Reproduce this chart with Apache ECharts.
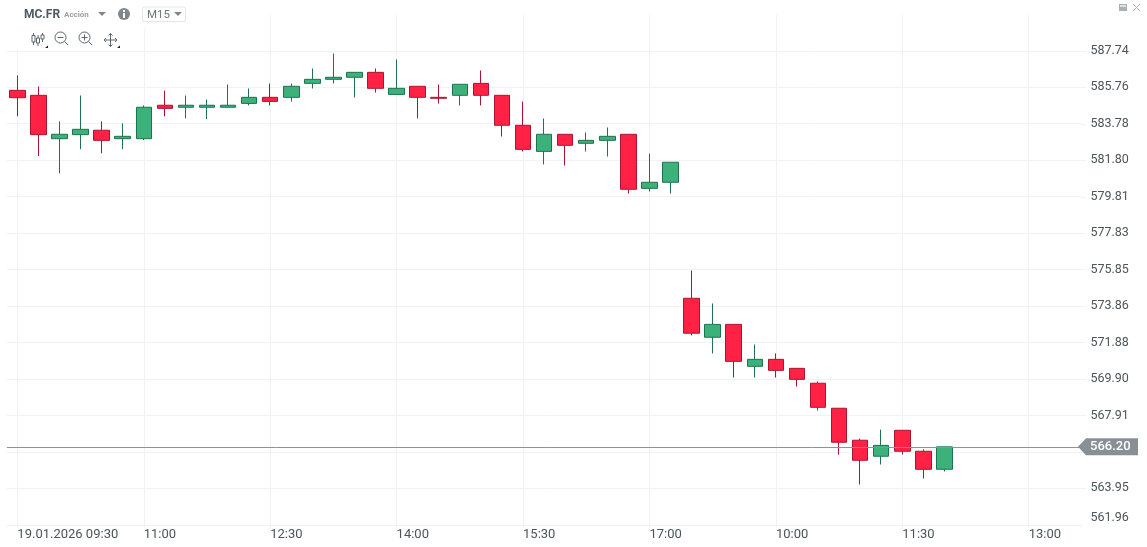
<!DOCTYPE html>
<html lang="es">
<head>
<meta charset="UTF-8">
<title>MC.FR M15</title>
<script src="https://cdn.jsdelivr.net/npm/echarts@6/dist/echarts.min.js"></script>
<style>
  html, body { margin: 0; padding: 0; background: #fff; }
  #main { width: 1147px; height: 547px; }
</style>
</head>
<body>
<div id="main"></div>
<script>
// 15 minute candles
var categories = [
  '19.01.2026 09:30','09:45','10:00','10:15','10:30','10:45',
  '11:00','11:15','11:30','11:45','12:00','12:15',
  '12:30','12:45','13:00','13:15','13:30','13:45',
  '14:00','14:15','14:30','14:45','15:00','15:15',
  '15:30','15:45','16:00','16:15','16:30','16:45',
  '17:00','17:15','09:00','09:15','09:30','09:45',
  '10:00','10:15','10:30','10:45','11:00','11:15',
  '11:30','11:45','12:00','12:15','12:30','12:45',
  '13:00','13:15','13:30'
];
var opens = [585.59,585.32,582.96,583.18,583.42,582.96,582.96,584.78,584.67,584.67,584.67,584.88,585.21,585.21,585.97,586.19,586.30,586.57,585.37,585.81,585.21,585.32,585.97,585.32,583.69,582.27,583.20,582.71,582.87,583.20,580.26,580.59,574.28,572.16,572.86,570.58,570.96,570.47,569.66,568.30,566.56,565.69,567.10,565.96,564.98];
var closes = [585.19,583.18,583.20,583.47,582.87,583.09,584.67,584.61,584.78,584.78,584.78,585.21,584.99,585.81,586.19,586.30,586.57,585.70,585.70,585.21,585.16,585.92,585.32,583.69,582.38,583.20,582.60,582.87,583.09,580.21,580.59,581.68,572.38,572.86,570.85,570.96,570.36,569.87,568.35,566.45,565.47,566.28,565.96,564.98,566.20];
var lows = [584.18,582.01,581.08,582.39,582.17,582.39,582.88,584.18,584.07,584.02,584.67,584.77,584.77,584.98,585.69,585.96,585.20,585.47,585.37,584.06,584.87,584.77,584.77,583.08,582.26,581.56,581.50,582.26,581.99,579.98,580.09,579.98,572.26,571.28,569.97,569.97,569.97,569.48,568.18,565.78,564.15,565.24,565.78,564.48,564.86];
var highs = [586.40,585.80,583.90,585.31,583.90,583.79,584.77,585.58,585.31,585.09,585.91,585.69,585.96,585.96,586.78,587.59,586.57,586.78,587.27,585.81,585.91,585.92,586.67,585.32,584.98,584.06,583.20,583.30,583.57,583.20,582.15,581.68,575.79,574.00,572.86,571.77,571.28,570.47,569.75,568.30,566.65,567.14,567.10,566.06,566.20];
var yTicks = [561.96,563.95,565.93,567.91,569.90,571.88,573.86,575.85,577.83,579.81,581.80,583.78,585.76,587.74];
var yLabels = [561.96,563.95,567.91,569.90,571.88,573.86,575.85,577.83,579.81,581.80,583.78,585.76,587.74];
var lastPrice = 566.20;

var candles = categories.map(function (c, i) {
    if (i >= opens.length) return '-';
    return [opens[i], closes[i], lows[i], highs[i]];
});

var myChart = echarts.init(document.getElementById('main'), null, { renderer: 'canvas' });
var font = 'Roboto';
var gridColor = '#f1f2f3';
var textColor = '#4b555b';
var iconColor = '#5c686e';

var option = {
    animation: false,
    backgroundColor: '#fff',
    textStyle: { fontFamily: font },
    grid: { left: 6.8, right: 65.6, top: 14.6, bottom: 22.2 },
    xAxis: {
        type: 'category',
        data: categories,
        boundaryGap: true,
        axisLine: { show: true, lineStyle: { color: gridColor } },
        axisTick: { show: true, alignWithLabel: true, interval: 5, length: 3, lineStyle: { color: gridColor } },
        splitLine: { show: true, alignWithLabel: true, interval: 5, lineStyle: { color: gridColor, width: 1 } },
        axisLabel: { interval: 5, align: 'left', margin: 3, fontFamily: font, fontSize: 13, color: textColor, hideOverlap: false }
    },
    yAxis: {
        type: 'value',
        position: 'right',
        min: 561.96,
        max: 589.71,
        scale: true,
        axisLine: { show: false },
        axisTick: { show: false, customValues: yTicks },
        splitLine: { show: true, lineStyle: { color: gridColor, width: 1 } },
        axisLabel: {
            customValues: yLabels,
            margin: 9,
            padding: [1, 0, 0, 0],
            fontFamily: font,
            fontSize: 12.5,
            color: textColor,
            verticalAlignMinLabel: 'bottom',
            formatter: function (v) { return v.toFixed(2); }
        }
    },
    series: [{
        type: 'candlestick',
        data: candles,
        barWidth: 16,
        itemStyle: {
            color: '#3cb27a',
            color0: '#ff2244',
            borderColor: '#1d7350',
            borderColor0: '#ad1431',
            borderWidth: 1
        },
        markLine: {
            silent: true,
            symbol: 'none',
            label: { show: false },
            lineStyle: { color: '#8b9498', type: 'solid', width: 1 },
            data: [{ yAxis: lastPrice }]
        }
    }]
};
myChart.setOption(option);

// header, toolbar and price tag sit on top of the plot
var tagY = myChart.convertToPixel({ yAxisIndex: 0 }, lastPrice);
function line(x1, y1, x2, y2, color) {
    return { type: 'line', shape: { x1: x1, y1: y1, x2: x2, y2: y2 }, style: { stroke: color || iconColor, lineWidth: 1 }, silent: true };
}
function tri(points, color) {
    return { type: 'polygon', shape: { points: points }, style: { fill: color }, silent: true };
}
function lens(cx, cy) {
    return { type: 'circle', shape: { cx: cx, cy: cy, r: 5.5 }, style: { fill: 'none', stroke: iconColor, lineWidth: 1 }, silent: true };
}
function candleIcon(x, top, bot, y1, y2) {
    return [
        line(x, y1, x, y2),
        { type: 'rect', shape: { x: x - 1.5, y: top, width: 3, height: bot - top }, style: { fill: '#fff', stroke: iconColor, lineWidth: 1 }, silent: true }
    ];
}
// horizontal grid lines run a little past the last category
var gridEnds = yTicks.slice(1).map(function (v) {
    var y = Math.round(myChart.convertToPixel({ yAxisIndex: 0 }, v)) + 0.5;
    return line(1081, y, 1086, y, gridColor);
});
myChart.setOption({
    graphic: { elements: [].concat(
        gridEnds,
        [
            { type: 'rect', shape: { x: 17, y: 0, width: 172, height: 27.5 }, style: { fill: '#fff' }, z: 50, silent: true },
            { type: 'rect', shape: { x: 17, y: 27, width: 110, height: 22.5 }, style: { fill: '#fff' }, z: 50, silent: true },
            { type: 'text', x: 24, y: 9, style: { text: 'MC.FR', font: 'bold 12px Roboto', fill: '#4d5b63' }, z: 60, silent: true },
            { type: 'text', x: 64, y: 11, style: { text: 'Acción', font: 'bold 8px Roboto', fill: '#9aa1a5' }, z: 60, silent: true },
            { type: 'circle', shape: { cx: 124, cy: 14, r: 6 }, style: { fill: '#7f878c' }, z: 60, silent: true },
            { type: 'rect', shape: { x: 123, y: 13, width: 2, height: 5 }, style: { fill: '#fff' }, z: 61, silent: true },
            { type: 'rect', shape: { x: 123, y: 10, width: 2, height: 2 }, style: { fill: '#fff' }, z: 61, silent: true },
            { type: 'rect', shape: { x: 142.5, y: 7, width: 43, height: 14.5, r: 2 }, style: { fill: '#fff', stroke: '#e3e5e6', lineWidth: 1 }, z: 60, silent: true },
            { type: 'text', x: 147, y: 9, style: { text: 'M15', font: '11.5px Roboto', fill: '#6c767b' }, z: 61, silent: true }
        ],
        [
            tri([[98, 12], [106, 12], [102, 16]], '#7f878c'),
            tri([[174, 12], [182, 12], [178, 16]], '#7f878c'),
            lens(60.5, 37.5), line(64.5, 41.5, 68, 45), line(57.5, 37.5, 63.5, 37.5),
            lens(84.5, 37.5), line(88.5, 41.5, 92, 45), line(81.5, 37.5, 87.5, 37.5), line(84.5, 34.5, 84.5, 40.5),
            line(104, 40, 117, 40), line(110.5, 33.5, 110.5, 46.5),
            line(104, 40, 106, 38), line(104, 40, 106, 42), line(117, 40, 115, 38), line(117, 40, 115, 42),
            line(110.5, 33.5, 108.5, 35.5), line(110.5, 33.5, 112.5, 35.5), line(110.5, 46.5, 108.5, 44.5), line(110.5, 46.5, 112.5, 44.5),
            tri([[48, 45.5], [48, 48], [45, 48]], '#222'),
            tri([[120, 45.5], [120, 48], [117, 48]], '#222')
        ].map(function (e) { e.z = 60; return e; }),
        candleIcon(33.5, 35.5, 42, 33, 45).concat(candleIcon(38, 38, 43, 35, 46), candleIcon(42.5, 35, 39, 33, 42)).map(function (e) { e.z = 60; return e; }),
        [
            { type: 'rect', shape: { x: 1119, y: 4, width: 8, height: 7 }, style: { fill: '#a9afb2' }, z: 60, silent: true },
            { type: 'rect', shape: { x: 1120, y: 5, width: 6, height: 2 }, style: { fill: '#dfe2e3' }, z: 61, silent: true },
            { type: 'line', shape: { x1: 1133, y1: 4, x2: 1140, y2: 11 }, style: { stroke: '#b5babc', lineWidth: 1 }, z: 60, silent: true },
            { type: 'line', shape: { x1: 1140, y1: 4, x2: 1133, y2: 11 }, style: { stroke: '#b5babc', lineWidth: 1 }, z: 60, silent: true },
            { type: 'polygon', shape: { points: [[1078, tagY], [1086, tagY - 8.5], [1138, tagY - 8.5], [1138, tagY + 8.5], [1086, tagY + 8.5]] }, style: { fill: '#879094' }, z: 60, silent: true },
            { type: 'text', x: 1090, y: tagY - 6.5, style: { text: lastPrice.toFixed(2), font: '500 13px Roboto', fill: '#fff' }, z: 61, silent: true }
        ]
    ) }
});
</script>
</body>
</html>
